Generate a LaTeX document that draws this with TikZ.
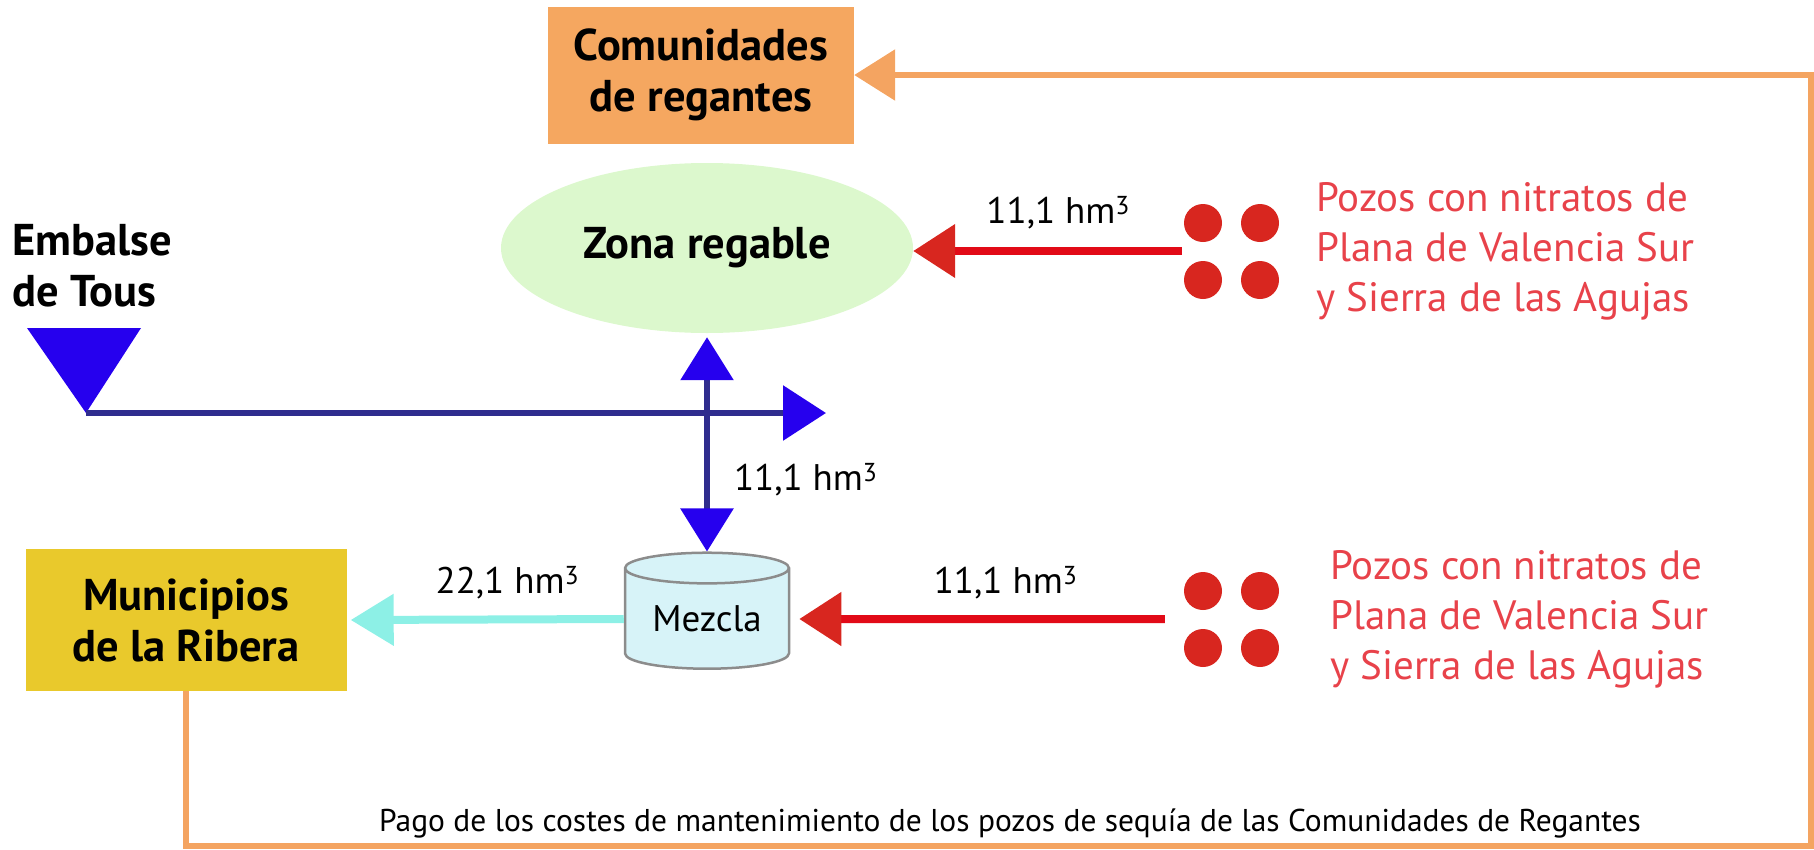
\documentclass[tikz,border=0pt]{standalone}
\usepackage{fontspec}
\setmainfont{PT Sans}
\usetikzlibrary{arrows.meta}
\usetikzlibrary{shapes.geometric}
\usetikzlibrary{positioning}

\definecolor{comfill}{HTML}{F5A760}
\definecolor{paycolor}{HTML}{F4A461}
\definecolor{munifill}{HTML}{E9C92C}
\definecolor{zonafill}{HTML}{DCF8CD}
\definecolor{riverline}{HTML}{2F2C8E}
\definecolor{riverhead}{HTML}{2600EE}
\definecolor{wellred}{HTML}{D8261F}
\definecolor{nitroline}{HTML}{E20A17}
\definecolor{nitrotext}{HTML}{E8424A}
\definecolor{mixline}{HTML}{8DF0E6}
\definecolor{mixfill}{HTML}{D7F3F8}

\newcommand\bigbold{\fontsize{44.5}{51}\selectfont\bfseries}
\newcommand\flowfont{\fontsize{37}{44}\selectfont}
\newcommand\wellfont{\fontsize{41}{50}\selectfont}
\newcommand\notefont{\fontsize{31.5}{36}\selectfont}

\tikzset{x=1pt, y=-1pt,
    every node/.style={inner sep=0pt},
    box/.style={
        rectangle,
        align=center,
        font=\bigbold},
    zone/.style={
        ellipse,
        fill=zonafill,
        font=\bigbold,
        minimum width=412pt,
        minimum height=170pt},
    tank/.style={
        cylinder,
        shape border rotate=90,
        aspect=0.28,
        draw=black!45,
        line width=2.5pt,
        fill=mixfill,
        minimum width=164pt,
        minimum height=116pt,
        font=\flowfont},
    well/.style={
        circle,
        fill=wellred,
        minimum size=38pt},
    wells/.style={
        minimum width=100pt,
        minimum height=96pt},
    welltext/.style={
        font=\wellfont,
        text=nitrotext,
        align=left},
    river/.style={
        draw=riverline,
        line width=6pt,
        -{Triangle[length=43pt,width=54pt,color=riverhead]}},
    pump/.style={
        draw=riverline,
        line width=6pt,
        {Triangle[length=43pt,width=52pt,color=riverhead]}-{Triangle[length=43pt,width=52pt,color=riverhead]}},
    nitro/.style={
        draw=nitroline,
        line width=8pt,
        -{Triangle[length=42pt,width=52pt,color=wellred]}},
    mix/.style={
        draw=mixline,
        line width=8pt,
        -{Triangle[length=43pt,width=50pt]}},
    pay/.style={
        draw=paycolor,
        line width=6pt,
        -{Triangle[length=41pt,width=50pt]}},
    flow/.style={font=\flowfont}}

\begin{document}
\begin{tikzpicture}
    \useasboundingbox (0,0) rectangle (1814,849);

    \node[box, fill=comfill, minimum width=306pt, minimum height=137pt] (comun) at (701,75) {Comunidades\\de regantes};
    \node[zone] (zona) at (707,248) {Zona regable};
    \node[box, anchor=west, align=left] (tous) at (12,266) {Embalse\\de Tous};
    \node[box, fill=munifill, minimum width=321pt, minimum height=142pt] (munic) at (186,620) {Municipios\\de la Ribera};
    \node[tank] (mezcla) at (707,619) {Mezcla};

    % embalse
    \fill[riverhead] (27,328) -- (141,328) -- (86,413) -- cycle;
    \coordinate (presa) at (86,413);
    \coordinate (rio) at (826,413);
    \coordinate (esquina) at (1811,846);

    % pozos
    \node[wells] (pozosN) at (1232,251) {};
    \node[wells] (pozosS) at (1232,619) {};
    \foreach \i/\dx/\dy in {1/-29/-28,2/28/-28,3/-29/29,4/28/29} {
        \node[well] (pozoN\i) at ([shift={(\dx,\dy)}]pozosN) {};
        \node[well] (pozoS\i) at ([shift={(\dx,\dy)}]pozosS) {};
    }
    \node[welltext, right=34pt of pozosN] (textoN) {Pozos con nitratos de\\Plana de Valencia Sur\\y Sierra de las Agujas};
    \node[welltext, right=48pt of pozosS] (textoS) {Pozos con nitratos de\\Plana de Valencia Sur\\y Sierra de las Agujas};

    \draw[river] (presa) -- (rio);
    \draw[pump, shorten <=4pt] (zona.south) -- node[flow, right=24pt, pos=0.67] (qV) {11,1 hm\textsuperscript{3}} (mezcla.north);
    \draw[nitro] (pozosN.west) -- node[flow, above=18pt, pos=0.46] (qN) {11,1 hm\textsuperscript{3}} (pozosN.west -| zona.east);
    \draw[nitro, shorten <=17pt, shorten >=9pt] (pozosS.west) -- node[flow, above=16pt, pos=0.45] (qS) {11,1 hm\textsuperscript{3}} (mezcla.east);
    \draw[mix, shorten >=4pt] (mezcla.west) -- node[flow, above=16pt, pos=0.42] (qM) {22,1 hm\textsuperscript{3}} (munic.east);
    \draw[pay] (munic.south) |- (esquina) |- (comun.east);

    \node[font=\notefont] (pago) at (1010,823) {Pago de los costes de mantenimiento de los pozos de sequía de las Comunidades de Regantes};
\end{tikzpicture}
\end{document}
